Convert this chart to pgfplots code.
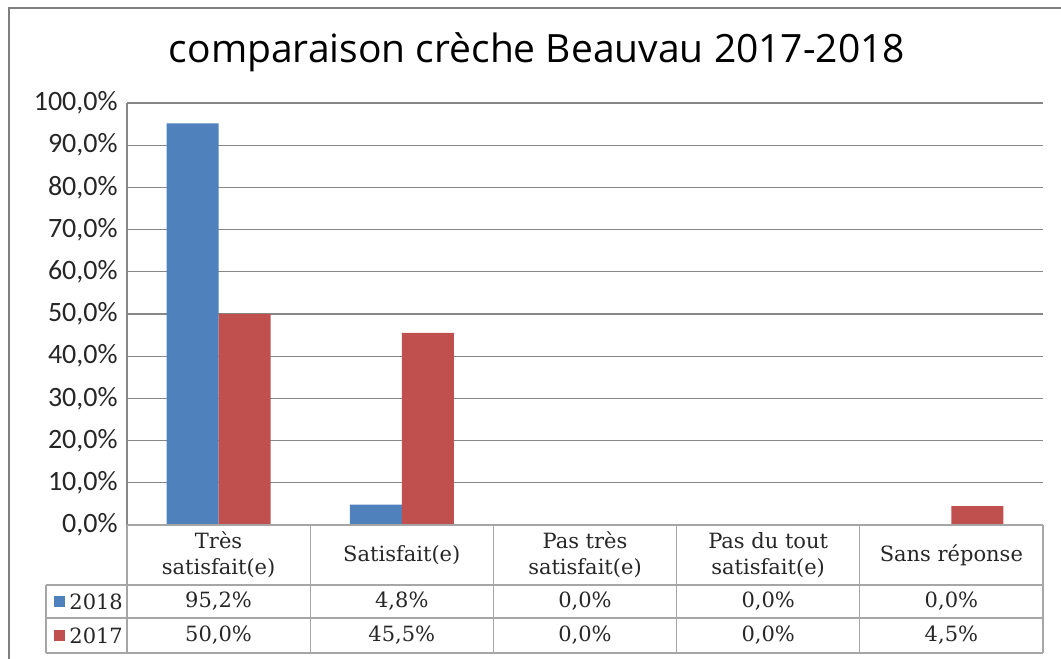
\documentclass[border=0pt]{standalone}
\usepackage{pgfplots}
\pgfplotsset{compat=1.18}
\usepackage{fontspec}
\setmainfont{DejaVu Serif}
\newfontfamily\carlito{Carlito}
\newfontfamily\opensans{Open Sans}
\definecolor{b18}{HTML}{4F81BD}
\definecolor{r17}{HTML}{C0504D}
\definecolor{gridc}{HTML}{878787}
\definecolor{tabc}{HTML}{A6A6A6}
\definecolor{framec}{HTML}{7F7F7F}
\begin{document}
\begin{tikzpicture}
\useasboundingbox (-63.5pt,-67pt) rectangle (467pt,262.5pt);
\draw[line width=1.2pt, framec] (-59pt,-67pt) -- (-59pt,258.5pt) -- (467pt,258.5pt);
\begin{axis}[
  at={(0,0)}, anchor=south west,
  scale only axis, width=458pt, height=211pt,
  xmin=-0.5, xmax=4.5, ymin=0, ymax=100,
  clip=false,
  axis line style={draw=none},
  major tick length=0pt,
  xtick={0,1,2,3,4},
  xticklabels={{Très\\satisfait(e)},{Satisfait(e)},{Pas très\\satisfait(e)},{Pas du tout\\satisfait(e)},{Sans réponse}},
  xticklabel style={align=center, anchor=center, yshift=-15pt, font=\fontsize{10.5}{13}\selectfont, text=black!85},
  ytick={0,10,...,100},
  /pgf/number format/assume math mode=true,
  yticklabel={\pgfmathprintnumber[fixed,fixed zerofill,precision=1,use comma]{\tick}\%},
  yticklabel style={font=\carlito\fontsize{14}{16}\selectfont, anchor=east, inner sep=0pt, xshift=-4.5pt, text=black!85},
  ymajorgrids, grid style={gridc, line width=0.6pt},
]
\addplot[ybar, bar width=26pt, bar shift=-13pt, fill=b18, draw=none] coordinates {(0,95.2) (1,4.8) (2,0) (3,0) (4,0)};
\addplot[ybar, bar width=26pt, bar shift=13pt, fill=r17, draw=none] coordinates {(0,50.0) (1,45.5) (2,0) (3,0) (4,4.5)};
% axis and table lines
\draw[gridc, line width=0.6pt] (axis cs:-0.5,100) -- (axis cs:-0.5,0);
\draw[tabc, line width=0.6pt] (axis cs:-0.5,0) -- (axis cs:-0.5,-30.33);
\draw[tabc, line width=0.6pt] (axis cs:-0.5,0) -- (axis cs:4.5,0);
\pgfplotsinvokeforeach{0.5,1.5,2.5,3.5,4.5}{\draw[tabc, line width=0.6pt] (axis cs:#1,0) -- (axis cs:#1,-30.33);}
\pgfplotsinvokeforeach{-14.22,-22.04,-30.33}{\draw[tabc, line width=0.6pt] (axis cs:-0.942,#1) -- (axis cs:4.5,#1);}
\draw[tabc, line width=0.6pt] (axis cs:-0.942,-14.22) -- (axis cs:-0.942,-30.33);
% legend keys
\fill[b18] (axis cs:-0.8985,-16.83) rectangle (axis cs:-0.8384,-19.43);
\fill[r17] (axis cs:-0.8985,-24.88) rectangle (axis cs:-0.8384,-27.48);
\node[anchor=west, inner sep=0pt, font=\fontsize{10.5}{13}\selectfont, text=black!85] at (axis cs:-0.8166,-18.13) {2018};
\node[anchor=west, inner sep=0pt, font=\fontsize{10.5}{13}\selectfont, text=black!85] at (axis cs:-0.8166,-26.18) {2017};
% table values
\node[font=\fontsize{10.5}{13}\selectfont, text=black!85] at (axis cs:0,-18.13) {95,2\%};
\node[font=\fontsize{10.5}{13}\selectfont, text=black!85] at (axis cs:1,-18.13) {4,8\%};
\node[font=\fontsize{10.5}{13}\selectfont, text=black!85] at (axis cs:2,-18.13) {0,0\%};
\node[font=\fontsize{10.5}{13}\selectfont, text=black!85] at (axis cs:3,-18.13) {0,0\%};
\node[font=\fontsize{10.5}{13}\selectfont, text=black!85] at (axis cs:4,-18.13) {0,0\%};
\node[font=\fontsize{10.5}{13}\selectfont, text=black!85] at (axis cs:0,-26.18) {50,0\%};
\node[font=\fontsize{10.5}{13}\selectfont, text=black!85] at (axis cs:1,-26.18) {45,5\%};
\node[font=\fontsize{10.5}{13}\selectfont, text=black!85] at (axis cs:2,-26.18) {0,0\%};
\node[font=\fontsize{10.5}{13}\selectfont, text=black!85] at (axis cs:3,-26.18) {0,0\%};
\node[font=\fontsize{10.5}{13}\selectfont, text=black!85] at (axis cs:4,-26.18) {4,5\%};
% title
\node[font=\opensans\fontsize{19.5}{22}\selectfont, text=black] at (axis cs:1.738,112.1) {comparaison crèche Beauvau 2017-2018};
\end{axis}
\end{tikzpicture}
\end{document}
